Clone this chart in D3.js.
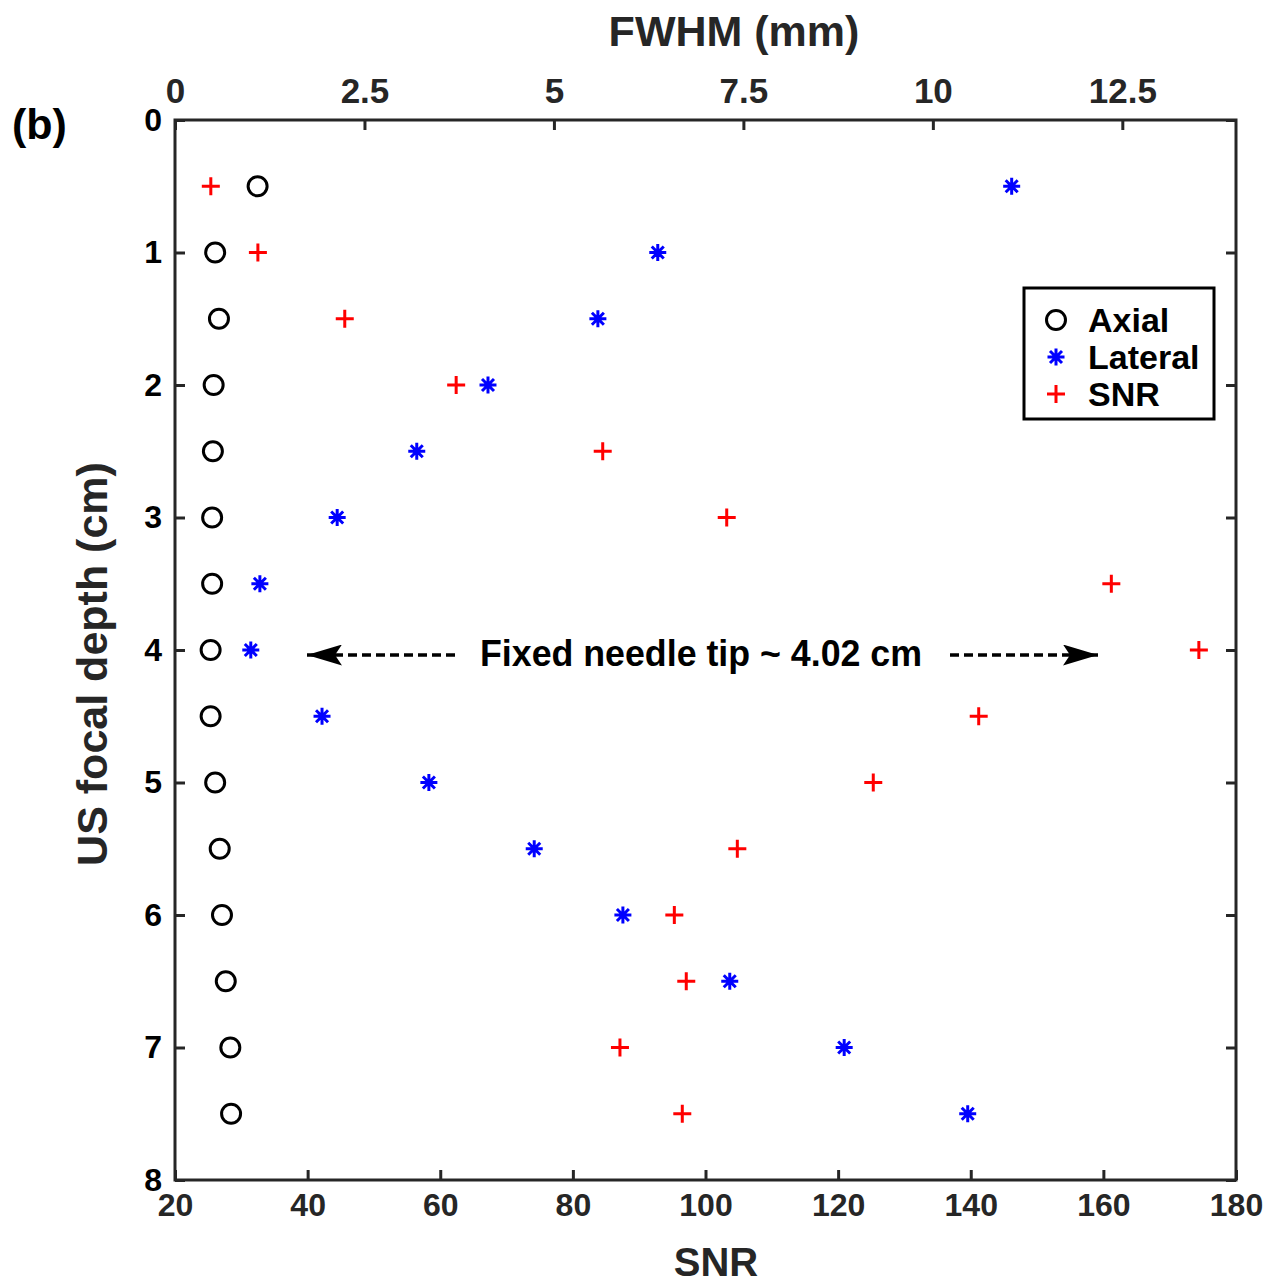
<!DOCTYPE html>
<html><head><meta charset="utf-8">
<script src="https://cdn.jsdelivr.net/npm/d3@7"></script>
<style>body{margin:0;background:#fff}svg{display:block}text{font-family:Arial,"Liberation Sans",sans-serif;font-weight:bold}</style>
</head><body>
<svg id="c" width="1271" height="1283"></svg>
<script>
const depths = [0.5,1,1.5,2,2.5,3,3.5,4,4.5,5,5.5,6,6.5,7,7.5];
const axialFWHM = [1.09,0.53,0.58,0.51,0.50,0.49,0.49,0.47,0.47,0.53,0.59,0.62,0.67,0.73,0.74];
const lateralFWHM = [11.04,6.37,5.58,4.13,3.19,2.14,1.12,1.00,1.94,3.35,4.74,5.91,7.32,8.83,10.46];
const snrValues = [25.4,32.5,45.6,62.4,84.5,103.2,161.2,174.4,141.2,125.3,104.8,95.3,97.1,87.1,96.5];
const snrTicks = [20,40,60,80,100,120,140,160,180];
const fwhmTicks = [0,2.5,5,7.5,10,12.5];
const depthTicks = [0,1,2,3,4,5,6,7,8];
const legendLabels = ["Axial","Lateral","SNR"];

const svg = d3.select("#c");
const L=175,R=1236,T=120,B=1180;
const xS = d3.scaleLinear().domain([20,180]).range([L,R]);
const xF = d3.scaleLinear().domain([0,14]).range([L,R]);
const y = d3.scaleLinear().domain([0,8]).range([T,B]);
const axc="#262626";

svg.append("rect").attr("x",L).attr("y",T).attr("width",R-L).attr("height",B-T)
  .attr("fill","none").attr("stroke",axc).attr("stroke-width",3);

const gb = svg.append("g").attr("transform",`translate(0,${B})`)
  .call(d3.axisBottom(xS).tickValues(snrTicks).tickSizeInner(-10).tickSizeOuter(0).tickPadding(13).tickFormat(d3.format("d")));
const gt = svg.append("g").attr("transform",`translate(0,${T})`)
  .call(d3.axisTop(xF).tickValues(fwhmTicks).tickSizeInner(-10).tickSizeOuter(0).tickPadding(17).tickFormat(d=>d));
const gl = svg.append("g").attr("transform",`translate(${L},0)`)
  .call(d3.axisLeft(y).tickValues(depthTicks).tickSizeInner(-10).tickSizeOuter(0).tickPadding(13).tickFormat(d3.format("d")));
const gr = svg.append("g").attr("transform",`translate(${R},0)`)
  .call(d3.axisRight(y).tickValues(depthTicks).tickSizeInner(-10).tickSizeOuter(0).tickFormat(""));
[gb,gt,gl,gr].forEach(g=>{
  g.select(".domain").remove();
  g.selectAll(".tick line").attr("stroke",axc).attr("stroke-width",3);
  g.selectAll(".tick text").attr("font-size",32).attr("font-weight","bold").attr("fill",axc)
    .attr("font-family","Arial, 'Liberation Sans', sans-serif");
});
gt.selectAll(".tick text").attr("font-size",35);
gl.selectAll(".tick text").attr("fill","#000");

svg.append("text").attr("x",734).attr("y",46).attr("text-anchor","middle").attr("font-size",43).attr("fill",axc).text("FWHM (mm)");
svg.append("text").attr("x",716).attr("y",1276).attr("text-anchor","middle").attr("font-size",40).attr("fill",axc).text("SNR");
svg.append("text").attr("transform",`translate(107,664) rotate(-90)`).attr("text-anchor","middle").attr("font-size",43).attr("fill",axc).text("US focal depth (cm)");
svg.append("text").attr("x",12).attr("y",139).attr("font-size",43).attr("fill","#000").text("(b)");

function circleM(g,cx,cy){g.append("circle").attr("cx",cx).attr("cy",cy).attr("r",9.5).attr("fill","none").attr("stroke","#000").attr("stroke-width",3);}
function plusM(g,cx,cy){const s=9;g.append("path").attr("d",`M${cx-s},${cy}H${cx+s}M${cx},${cy-s}V${cy+s}`).attr("stroke","#ff0000").attr("stroke-width",3).attr("fill","none");}
function starM(g,cx,cy){const s=8.5,d=6;g.append("path").attr("d",`M${cx-s},${cy}H${cx+s}M${cx},${cy-s}V${cy+s}M${cx-d},${cy-d}L${cx+d},${cy+d}M${cx-d},${cy+d}L${cx+d},${cy-d}`).attr("stroke","#0000ff").attr("stroke-width",3).attr("fill","none");}

const gm = svg.append("g");
depths.forEach((d,i)=>{
  circleM(gm,xF(axialFWHM[i]),y(d));
  starM(gm,xF(lateralFWHM[i]),y(d));
  plusM(gm,xS(snrValues[i]),y(d));
});

// annotation
const defs = svg.append("defs");
defs.append("marker").attr("id","ah").attr("viewBox","0 0 35 21").attr("refX",35).attr("refY",10.5)
  .attr("markerWidth",35).attr("markerHeight",21).attr("markerUnits","userSpaceOnUse").attr("orient","auto")
  .append("path").attr("d","M0,0L35,10.5L0,21L7,10.5Z").attr("fill","#000");
const ay = 655;
svg.append("line").attr("x1",455).attr("x2",307).attr("y1",ay).attr("y2",ay).attr("stroke","#000").attr("stroke-width",3.5).attr("stroke-dasharray","9,5").attr("marker-end","url(#ah)");
svg.append("line").attr("x1",950).attr("x2",1098).attr("y1",ay).attr("y2",ay).attr("stroke","#000").attr("stroke-width",3.5).attr("stroke-dasharray","9,5").attr("marker-end","url(#ah)");
svg.append("text").attr("x",480).attr("y",666).attr("font-size",36)
  .attr("textLength",442).attr("lengthAdjust","spacingAndGlyphs")
  .attr("font-family","'Liberation Sans Narrow', 'Arial Narrow', Arial, sans-serif").attr("fill","#000").text("Fixed needle tip ~ 4.02 cm");

// legend
const lg = svg.append("g");
lg.append("rect").attr("x",1024).attr("y",288).attr("width",190).attr("height",131).attr("fill","#fff").attr("stroke","#000").attr("stroke-width",3);
const ly=[320,357,394];
circleM(lg,1056,ly[0]); starM(lg,1056,ly[1]); plusM(lg,1056,ly[2]);
legendLabels.forEach((t,i)=>lg.append("text").attr("x",1088).attr("y",ly[i]+12).attr("font-size",34).attr("fill","#000").text(t));
</script>
</body></html>
